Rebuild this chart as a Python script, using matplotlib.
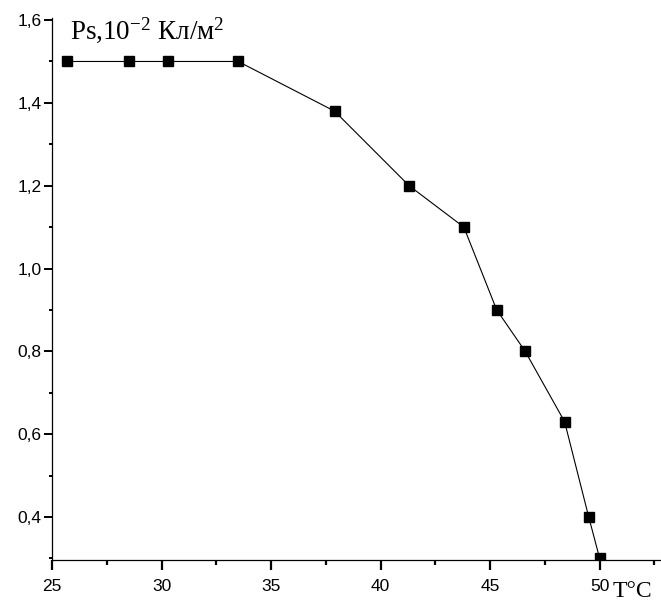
import matplotlib.pyplot as plt
from matplotlib.ticker import MultipleLocator

# Spontaneous polarization vs temperature
temp = [25.7, 28.5, 30.3, 33.5, 37.9, 41.3, 43.8, 45.3, 46.6, 48.4, 49.5, 50.0]
ps = [1.5, 1.5, 1.5, 1.5, 1.38, 1.2, 1.1, 0.9, 0.8, 0.63, 0.4, 0.3]

x_ticks = [25, 30, 35, 40, 45, 50]
x_labels = ['25', '30', '35', '40', '45', '50']
y_ticks = [0.4, 0.6, 0.8, 1.0, 1.2, 1.4, 1.6]
y_labels = ['0,4', '0,6', '0,8', '1,0', '1,2', '1,4', '1,6']

plt.rcParams['mathtext.fontset'] = 'custom'
plt.rcParams['mathtext.rm'] = 'Liberation Serif'
plt.rcParams['mathtext.it'] = 'Liberation Serif'

fig = plt.figure(figsize=(6.61, 6.04), dpi=100)
ax = fig.add_axes([52 / 661, 1 - 560 / 604, 1 - 52 / 661, (560 - 18) / 604])

ax.plot(temp, ps, color='black', lw=0.8, marker='s', ms=7, mfc='black', mec='black')

ax.set_xlim(25, 52.8)
ax.set_ylim(0.296, 1.605)

ax.set_xticks(x_ticks)
ax.set_xticklabels(x_labels)
ax.set_yticks(y_ticks)
ax.set_yticklabels(y_labels)
ax.xaxis.set_minor_locator(MultipleLocator(2.5))
ax.yaxis.set_minor_locator(MultipleLocator(0.1))

for s in ['top', 'right']:
    ax.spines[s].set_visible(False)
for s in ['left', 'bottom']:
    ax.spines[s].set_linewidth(0.9)

ax.tick_params(axis='x', which='major', length=7.5, width=1.6, pad=6, labelsize=12.5)
ax.tick_params(axis='x', which='minor', length=3.5, width=1.6)
ax.tick_params(axis='y', which='major', length=5.5, width=1.4, pad=2, labelsize=12.5)
ax.tick_params(axis='y', which='minor', length=2.5, width=1.4)
for lab in ax.get_xticklabels() + ax.get_yticklabels():
    lab.set_family('Liberation Sans')

fig.text(70 / 661, 1 - 39 / 604, r'Ps,10$^{-2}$ Кл/м$^2$', family='Liberation Serif',
         fontsize=19.5, va='baseline', ha='left')
fig.text(613 / 661, 1 - 597 / 604, 'T°C', family='Liberation Serif',
         fontsize=17, va='baseline', ha='left')

fig.savefig('out.png', dpi=100)
